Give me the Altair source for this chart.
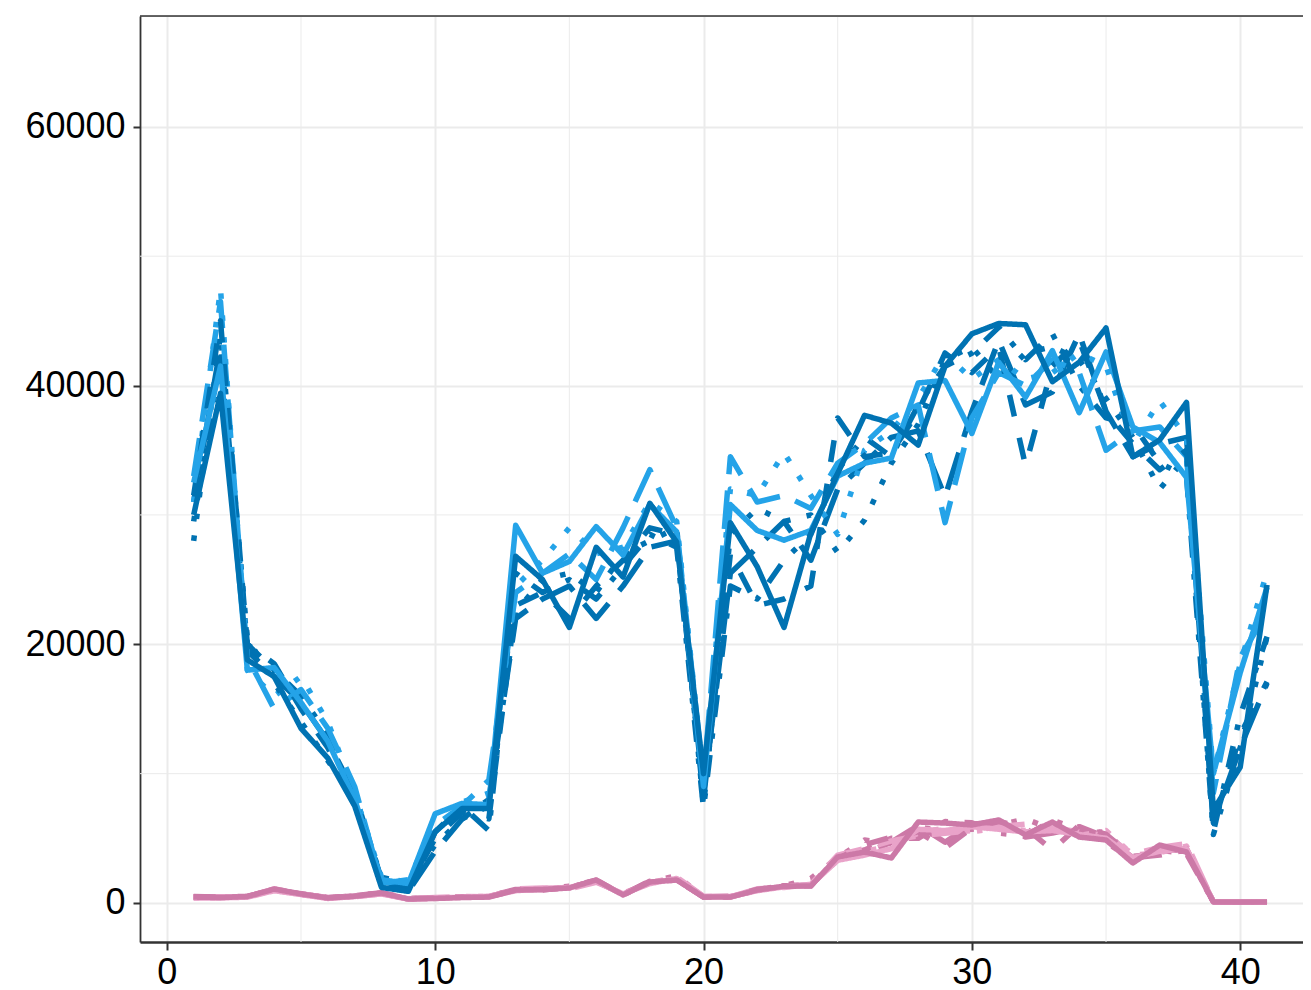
import altair as alt
import pandas as pd

# ---------------- data ----------------
x_vals = list(range(1, 42))

x_ticks = [0, 10, 20, 30, 40]
x_minor = [5, 15, 25, 35]
y_ticks = [0, 20000, 40000, 60000]
y_minor = [10000, 30000, 50000]

pink_dark_solid = [460, 420, 500, 1080, 700, 390, 520, 770, 310, 350, 420, 460, 1000, 1050, 1160, 1780, 620, 1620, 1780, 460,
                   460, 1000, 1300, 1310, 3560, 3940, 3480, 6260, 6180, 6030, 6420, 5260, 6260, 5100, 4870, 3090, 4480, 3940, 80, 80, 80]
pink_light_solid = [380, 400, 450, 950, 650, 350, 500, 700, 300, 380, 450, 520, 950, 1100, 1200, 1650, 700, 1500, 1900, 500,
                    500, 950, 1250, 1400, 3300, 3700, 4200, 5700, 5600, 5900, 5700, 5500, 5600, 5300, 5000, 3500, 4000, 4200, 100, 90, 90]
pink_dark_dashed = [500, 450, 520, 1000, 720, 400, 550, 750, 330, 400, 480, 500, 1050, 1000, 1250, 1700, 650, 1700, 1800, 480,
                    520, 1050, 1350, 1350, 3400, 4500, 5100, 5500, 4250, 5800, 6300, 5800, 4100, 6000, 5300, 3600, 3800, 4200, 90, 85, 85]
pink_light_longdash = [420, 480, 480, 1100, 680, 420, 480, 720, 350, 420, 500, 480, 1100, 1150, 1100, 1600, 750, 1550, 2000, 520,
                       480, 1100, 1200, 1450, 3700, 4200, 4800, 5200, 5400, 5600, 5900, 6100, 5800, 5500, 5200, 3800, 4300, 4600, 100, 90, 90]
pink_dark_dotted = [450, 420, 480, 1050, 700, 380, 530, 780, 320, 380, 460, 480, 980, 1080, 1300, 1750, 600, 1650, 2100, 470,
                    470, 980, 1320, 1900, 3500, 4870, 4600, 5900, 5500, 5700, 6000, 6500, 5700, 5400, 5500, 3400, 4200, 4000, 85, 80, 80]
pink_light_dotted = [400, 460, 460, 1000, 660, 360, 510, 740, 320, 400, 470, 500, 1020, 1120, 1150, 1700, 680, 1580, 1850, 490,
                     490, 1020, 1280, 1500, 3300, 4000, 4400, 5400, 5800, 5500, 5800, 5600, 6000, 5200, 5600, 3700, 3900, 4400, 95, 85, 85]
pink_dark_dotdash = [470, 440, 510, 1020, 690, 400, 540, 760, 300, 360, 440, 470, 1020, 1060, 1220, 1720, 640, 1680, 1760, 470,
                     470, 1030, 1330, 1330, 3600, 4100, 5000, 5000, 6300, 6200, 5400, 5200, 6400, 5700, 4700, 3300, 4100, 3800, 80, 80, 80]
pink_dark_longdash = [480, 430, 490, 1060, 710, 410, 560, 790, 330, 370, 430, 490, 1040, 1030, 1180, 1760, 660, 1600, 1820, 450,
                      450, 1010, 1310, 1370, 3450, 3800, 4700, 6000, 4700, 6100, 6200, 5100, 5400, 5900, 5100, 3500, 3700, 4100, 90, 80, 80]

blue_dark_solid = [30000, 39400, 18800, 17500, 13500, 11200, 7500, 1200, 900, 5500, 7300, 7300, 26800, 25000, 21300, 27500, 25200, 30900, 27900, 10000,
                   29400, 26000, 21300, 28600, 33200, 37700, 37100, 35400, 41500, 44000, 44800, 44700, 40300, 41800, 44450, 34500, 35800, 38700, 7200, 10500, 24600]
blue_light_solid = [32500, 41500, 18000, 18200, 15500, 12500, 8000, 1800, 1500, 6900, 7700, 7600, 29200, 25500, 26400, 29100, 26900, 30800, 28700, 9000,
                    30800, 28800, 28050, 28800, 33000, 34000, 34400, 40200, 40400, 36300, 41800, 39100, 42700, 37900, 42600, 36800, 35600, 32900, 10000, 17800, 24400]
blue_dark_dashed = [31500, 45000, 20000, 18500, 15000, 12000, 8000, 1800, 1200, 5000, 7000, 6500, 23000, 24000, 22000, 24500, 26500, 29000, 28500, 8000,
                    27000, 23000, 23500, 24500, 37500, 34500, 34800, 38000, 42500, 41000, 43000, 33800, 41500, 43500, 38000, 35500, 33500, 35000, 6000, 13000, 17100]
blue_light_longdash = [33000, 46500, 19000, 15000, 16500, 13500, 9000, 1500, 1800, 6000, 7500, 9500, 24000, 25500, 27000, 25000, 29000, 33500, 29000, 9500,
                       34500, 31000, 31500, 30500, 34000, 35500, 37500, 38500, 29400, 37500, 41000, 40000, 42000, 41000, 35000, 36500, 36800, 34500, 8500, 19000, 22500]
blue_dark_dotted = [28000, 44000, 20500, 17000, 14000, 11000, 8000, 2000, 1500, 4500, 6500, 7500, 22500, 25000, 25500, 24000, 27000, 28000, 29000, 7500,
                    28500, 30500, 29500, 30000, 27100, 29600, 34000, 37000, 42000, 43000, 40500, 42500, 43000, 42000, 39000, 36000, 32000, 34500, 5300, 12000, 20600]
blue_light_dotted = [31000, 47500, 18000, 16000, 17500, 14000, 8500, 2000, 1600, 5500, 7800, 8500, 24500, 26500, 29000, 27000, 27500, 31000, 29500, 9500,
                     32000, 31500, 34800, 31500, 28500, 35000, 36500, 39000, 42500, 40500, 42000, 40500, 41000, 42500, 41500, 35500, 38800, 36000, 10000, 18500, 25600]
blue_dark_dotdash = [29500, 42000, 20000, 18000, 16000, 13000, 7800, 1500, 1200, 5500, 7500, 5600, 25500, 24000, 25000, 23500, 26000, 28500, 27500, 7300,
                     24500, 23500, 26500, 28500, 33500, 36000, 34500, 38500, 41500, 42500, 44500, 42000, 44000, 40000, 37500, 37000, 34000, 33000, 5500, 14500, 20600]
blue_dark_longdash = [31000, 43000, 19500, 17500, 15500, 12500, 8500, 1800, 900, 4000, 6500, 8000, 22000, 23500, 24500, 22000, 24500, 27500, 28000, 8500,
                      25500, 27500, 29500, 26500, 32000, 34000, 36000, 36500, 31400, 38000, 43500, 38500, 39500, 44000, 38000, 34500, 35500, 36000, 6200, 12000, 17000]

series_names = [
    "p_dark_longdash", "p_dark_dotdash", "p_light_dotted", "p_dark_dotted",
    "p_light_longdash", "p_dark_dashed", "p_light_solid", "p_dark_solid",
    "b_dark_longdash", "b_dark_dotdash", "b_light_dotted", "b_dark_dotted",
    "b_light_longdash", "b_dark_dashed", "b_light_solid", "b_dark_solid",
]
series_values = [
    pink_dark_longdash, pink_dark_dotdash, pink_light_dotted, pink_dark_dotted,
    pink_light_longdash, pink_dark_dashed, pink_light_solid, pink_dark_solid,
    blue_dark_longdash, blue_dark_dotdash, blue_light_dotted, blue_dark_dotted,
    blue_light_longdash, blue_dark_dashed, blue_light_solid, blue_dark_solid,
]

# ---------------- styles ----------------
BD, BL = "#0072B2", "#24A3E8"
PD, PL = "#CC79A7", "#E9A3C9"
LW = 5.5
SOLID = [1, 0]
DASHED = [4 * LW, 4 * LW]
DOTTED = [1 * LW, 3 * LW]
DOTDASH = [1 * LW, 3 * LW, 4 * LW, 3 * LW]
LONGDASH = [7 * LW, 3 * LW]

series_colors = [PD, PD, PL, PD, PL, PD, PL, PD,
                 BD, BD, BL, BD, BL, BD, BL, BD]
series_dashes = [LONGDASH, DOTDASH, DOTTED, DOTTED, LONGDASH, DASHED, SOLID, SOLID,
                 LONGDASH, DOTDASH, DOTTED, DOTTED, LONGDASH, DASHED, SOLID, SOLID]

rows = []
for name, vals in zip(series_names, series_values):
    for xv, yv in zip(x_vals, vals):
        rows.append({"x": xv, "y": yv, "series": name})
df = pd.DataFrame(rows)

W, H = 1163, 926
FONT = "Liberation Sans"

xscale = alt.Scale(domain=[-1, 42.34], nice=False, zero=False)
yscale = alt.Scale(domain=[-3015, 68570], nice=False, zero=False)

xaxis = alt.Axis(values=x_ticks, title=None, grid=True, gridColor="#EBEBEB", gridWidth=2,
                 domainColor="#333333", domainWidth=2.5, tickColor="#333333", tickWidth=2,
                 tickSize=8, labelFontSize=36, labelFont=FONT, labelColor="#000000",
                 labelPadding=5, labelFlush=False, labelOverlap=False, format="d")
yaxis = alt.Axis(values=y_ticks, title=None, grid=True, gridColor="#EBEBEB", gridWidth=2,
                 domainColor="#333333", domainWidth=1.8, tickColor="#333333", tickWidth=2,
                 tickSize=7, labelFontSize=36, labelFont=FONT, labelColor="#000000",
                 labelPadding=8, labelOverlap=False, format="d")

xminor_df = pd.DataFrame({"v": x_minor})
yminor_df = pd.DataFrame({"v": y_minor})

xminor = alt.Chart(xminor_df).mark_rule(color="#EBEBEB", strokeWidth=1).encode(
    x=alt.X("v:Q", scale=xscale, axis=xaxis)
)
yminor = alt.Chart(yminor_df).mark_rule(color="#EBEBEB", strokeWidth=1).encode(
    y=alt.Y("v:Q", scale=yscale, axis=yaxis)
)

lines = alt.Chart(df).mark_line(strokeWidth=LW, strokeCap="butt", strokeJoin="round").encode(
    x=alt.X("x:Q", scale=xscale, axis=xaxis),
    y=alt.Y("y:Q", scale=yscale, axis=yaxis),
    color=alt.Color("series:N", scale=alt.Scale(domain=series_names, range=series_colors), legend=None),
    strokeDash=alt.StrokeDash("series:N", scale=alt.Scale(domain=series_names, range=series_dashes), legend=None),
)

top_border = alt.Chart(pd.DataFrame({"a": [0]})).mark_rule(color="#333333", strokeWidth=1.5).encode(
    x=alt.value(0), x2=alt.value(W), y=alt.value(0)
)

chart = alt.layer(xminor, yminor, lines, top_border).properties(
    width=W, height=H,
    padding={"left": 132, "top": 8, "right": 0, "bottom": 50},
    autosize=alt.AutoSizeParams(type="none"),
).configure_view(stroke=None).configure(background="white")

chart.save("out.html", embed_options={"renderer": "svg", "actions": False})
